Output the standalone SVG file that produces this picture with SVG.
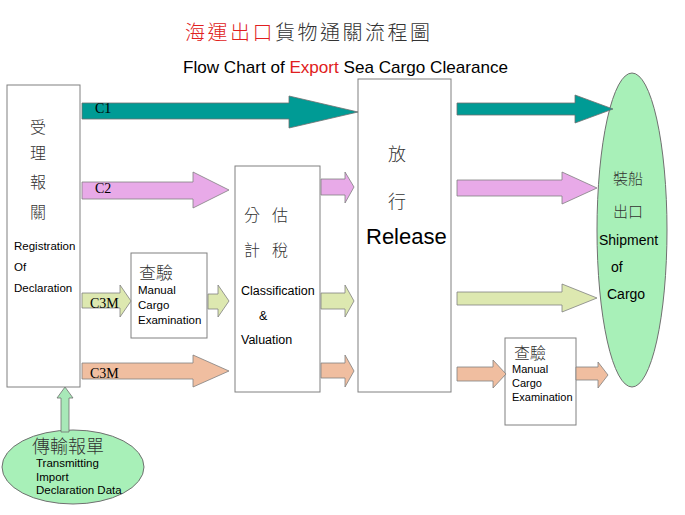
<svg xmlns="http://www.w3.org/2000/svg" width="685" height="515" viewBox="0 0 685 515">
<style>
.box{fill:#fff;stroke:#808080;stroke-width:1}
.ell{fill:#a8f0b8;stroke:#707070;stroke-width:1}
.cj{font-family:"Noto Sans CJK TC","Noto Sans CJK SC",sans-serif;fill:#333;font-weight:300}
.en{font-family:"Liberation Sans",Arial,sans-serif;fill:#000}
.tm{font-family:"Liberation Serif","Times New Roman",serif;fill:#000;font-size:14px}
.teal{fill:#009b95;stroke:#707070;stroke-width:0.8}
.pink{fill:#e8aae8;stroke:#808080;stroke-width:0.8}
.yg{fill:#dde8b0;stroke:#808080;stroke-width:0.8}
.sal{fill:#f0bea0;stroke:#808080;stroke-width:0.8}
.lg{fill:#a8e8b8;stroke:#707070;stroke-width:0.8}
</style>
<rect width="685" height="515" fill="#fff"/>
<g id="title">
<text x="185" y="40" class="cj" font-size="20" letter-spacing="2.5"><tspan fill="#e02020">海運出口</tspan><tspan fill="#333">貨物通關流程圖</tspan></text>
<text x="183" y="73" class="en" font-size="17" textLength="325" lengthAdjust="spacingAndGlyphs">Flow Chart of <tspan fill="#e02020">Export</tspan> Sea Cargo Clearance</text>
</g>
<g id="registration">
<rect class="box" x="7" y="85" width="73" height="302"/>
<text class="cj" font-size="16" x="38" y="133" text-anchor="middle">受</text>
<text class="cj" font-size="16" x="38" y="159" text-anchor="middle">理</text>
<text class="cj" font-size="16" x="38" y="188" text-anchor="middle">報</text>
<text class="cj" font-size="16" x="38" y="218" text-anchor="middle">關</text>
<text class="en" font-size="11.5" x="14" y="250">Registration</text>
<text class="en" font-size="11.5" x="14" y="271">Of</text>
<text class="en" font-size="11.5" x="14" y="292">Declaration</text>
</g>
<g id="exam1">
<rect class="box" x="131" y="253" width="76" height="85"/>
<text class="cj" font-size="17" x="139" y="279">查驗</text>
<text class="en" font-size="11.5" x="138" y="294">Manual</text>
<text class="en" font-size="11.5" x="138" y="309">Cargo</text>
<text class="en" font-size="11.5" x="138" y="324">Examination</text>
</g>
<g id="classification">
<rect class="box" x="235" y="166" width="85" height="226"/>
<text class="cj" font-size="16" x="244" y="221">分</text>
<text class="cj" font-size="16" x="272" y="221">估</text>
<text class="cj" font-size="16" x="244" y="256">計</text>
<text class="cj" font-size="16" x="272" y="256">稅</text>
<text class="en" font-size="12.5" x="241" y="295">Classification</text>
<text class="en" font-size="12.5" x="259" y="320">&amp;</text>
<text class="en" font-size="12.5" x="241" y="344">Valuation</text>
</g>
<g id="release">
<rect class="box" x="358" y="79" width="93" height="313"/>
<text class="cj" font-size="18" x="397" y="161" text-anchor="middle">放</text>
<text class="cj" font-size="18" x="397" y="208" text-anchor="middle">行</text>
<text class="en" font-size="22" x="366" y="244">Release</text>
</g>
<g id="exam2">
<rect class="box" x="505" y="338" width="71" height="87"/>
<text class="cj" font-size="16" x="514" y="359">查驗</text>
<text class="en" font-size="11" x="512" y="373">Manual</text>
<text class="en" font-size="11" x="512" y="387">Cargo</text>
<text class="en" font-size="11" x="512" y="401">Examination</text>
</g>
<g id="shipment">
<ellipse class="ell" cx="632" cy="230" rx="35" ry="157"/>
<text class="cj" font-size="15" x="628" y="184" text-anchor="middle">裝船</text>
<text class="cj" font-size="15" x="628" y="217" text-anchor="middle">出口</text>
<text class="en" font-size="14" x="599" y="245">Shipment</text>
<text class="en" font-size="14" x="611" y="272">of</text>
<text class="en" font-size="14" x="607" y="299">Cargo</text>
</g>
<g id="transmitting">
<ellipse class="ell" cx="73" cy="467" rx="71" ry="37"/>
<text class="cj" font-size="18" x="32" y="453">傳輸報單</text>
<text class="en" font-size="11.5" x="36" y="467">Transmitting</text>
<text class="en" font-size="11.5" x="36" y="481">Import</text>
<text class="en" font-size="11.5" x="36" y="494">Declaration Data</text>
</g>
<g id="connectors">
<polygon class="teal" points="82,103 289,103 289,96 358,112 289,128 289,119 82,119"/>
<polygon class="teal" points="457,103 575,103 575,95 613,109 575,123 575,115 457,115"/>
<polygon class="pink" points="82,182 193,182 193,172 229,190 193,208 193,199 82,199"/>
<polygon class="pink" points="321,179 345,179 345,172 354,187 345,203 345,195 321,195"/>
<polygon class="pink" points="457,180 562,180 562,172 597,188 562,204 562,196 457,196"/>
<polygon class="yg" points="82,293 120,293 120,285 131,301 120,317 120,308 82,308"/>
<polygon class="yg" points="208,294 218,294 218,285 229,301 218,317 218,309 208,309"/>
<polygon class="yg" points="321,293 345,293 345,285 354,301 345,317 345,309 321,309"/>
<polygon class="yg" points="457,292 562,292 562,284 597,298 562,312 562,305 457,305"/>
<polygon class="sal" points="82,363 193,363 193,355 229,371 193,387 193,379 82,379"/>
<polygon class="sal" points="321,363 345,363 345,355 354,371 345,387 345,378 321,378"/>
<polygon class="sal" points="457,367 493,367 493,360 506,374 493,388 493,381 457,381"/>
<polygon class="sal" points="576,367 598,367 598,362 608,375 598,388 598,380 576,380"/>
<polygon class="lg" points="61,432 61,398 57,398 65,387 73,398 69,398 69,432"/>
<text class="tm" x="95" y="113">C1</text>
<text class="tm" x="95" y="193">C2</text>
<text class="tm" x="90" y="308">C3M</text>
<text class="tm" x="90" y="378">C3M</text>
</g>
</svg>
